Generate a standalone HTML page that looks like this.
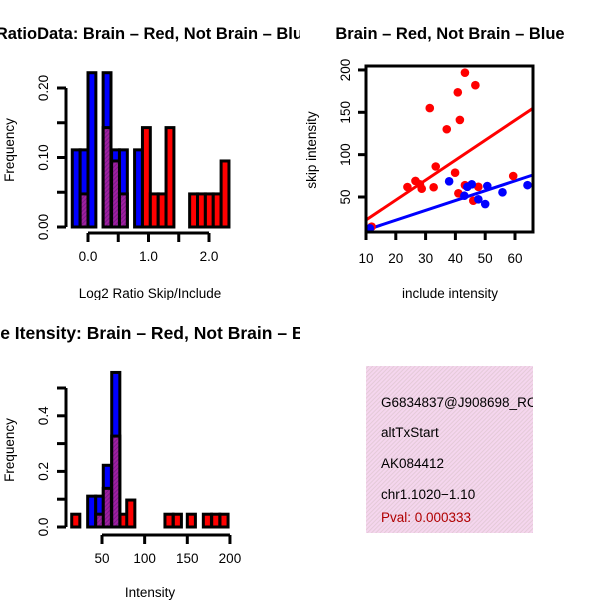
<!DOCTYPE html>
<html><head><meta charset="utf-8"><style>
html,body{margin:0;padding:0;background:#fff}
svg{display:block}
text{font-family:"Liberation Sans",sans-serif;fill:#000}
</style></head><body>
<svg id="c" width="600" height="600" viewBox="0 0 600 600" xmlns="http://www.w3.org/2000/svg">
<defs>
<clipPath id="p1"><rect x="0" y="0" width="300" height="300"/></clipPath>
<clipPath id="p3"><rect x="0" y="300" width="300" height="300"/></clipPath>
<clipPath id="p4"><rect x="366" y="366" width="167" height="167"/></clipPath>
<pattern id="hatch" width="3" height="3" patternUnits="userSpaceOnUse" patternTransform="rotate(45)">
<rect width="3" height="3" fill="#f5d6ee"/><rect width="1" height="3" fill="#e4cad8"/></pattern>
<pattern id="purp" width="3" height="3" patternUnits="userSpaceOnUse" patternTransform="rotate(45)">
<rect width="3" height="3" fill="#a020a0"/><rect width="1" height="3" fill="#7a1a8a"/></pattern>
</defs>
<g id="g1" clip-path="url(#p1)"></g>
<g id="g2"></g>
<g id="g3" clip-path="url(#p3)"></g>
<g id="g4">
<rect x="366" y="366" width="167" height="167" fill="url(#hatch)"/>
<g clip-path="url(#p4)" font-size="13.5">
<text x="381" y="407">G6834837@J908698_RC</text>
<text x="381" y="437">altTxStart</text>
<text x="381" y="468">AK084412</text>
<text x="381" y="499">chr1.1020−1.10</text>
<text x="381" y="522" style="fill:#b00000">Pval: 0.000333</text>
</g></g>
</svg>
<script>
// ---- Panel 1 data (Log2 ratio histogram)
const h1BinWidth = 0.13;
const h1BlueLeft = [-0.26, -0.13, 0, 0.25, 0.39, 0.52, 0.77];
const h1BlueFreq = [0.111, 0.111, 0.222, 0.222, 0.111, 0.111, 0.111];
const h1RedLeft = [-0.13, 0.25, 0.39, 0.52, 0.90, 1.03, 1.16, 1.29, 1.68, 1.81, 1.94, 2.07, 2.20];
const h1RedFreq = [0.0476, 0.143, 0.095, 0.0476, 0.143, 0.0476, 0.0476, 0.143, 0.0476, 0.0476, 0.0476, 0.0476, 0.095];
const h1XTicks = [0, 0.5, 1, 1.5, 2];
const h1XLabels = ["0.0", "", "1.0", "", "2.0"];
const h1YTicks = [0, 0.05, 0.10, 0.15, 0.20];
const h1YLabels = ["0.00", "", "0.10", "", "0.20"];
// ---- Panel 2 data (scatter)
const redInclude = [43.2, 46.7, 40.8, 31.4, 41.5, 37.1, 33.4, 39.9, 23.9, 26.6, 28.1, 28.7, 32.7, 41, 43.2, 47.7, 46, 59.4, 11.9];
const redSkip = [196.8, 182, 173.6, 155, 141, 130, 86, 78.7, 61.8, 69, 65, 59.8, 61.5, 54.4, 64, 62, 45.6, 74.8, 15];
const blueInclude = [37.9, 44, 45.5, 50.7, 55.8, 64.2, 47.7, 50, 43, 11.3];
const blueSkip = [68.5, 62, 65, 63, 55.5, 64, 47.3, 41.7, 51.5, 13];
const redFit = [-0.75, 2.355];
const blueFit = [-0.6, 1.16];
const scXTicks = [10, 20, 30, 40, 50, 60];
const scYTicks = [50, 100, 150, 200];
// ---- Panel 3 data (intensity histogram)
const h3BinWidth = 9.5;
const h3BlueLeft = [33.2, 42.6, 51.5, 61.4];
const h3BlueFreq = [0.111, 0.111, 0.222, 0.556];
const h3RedLeft = [14.5, 42.6, 51.5, 61.4, 71.1, 79, 123.8, 133.6, 150, 168.8, 178.6, 188.3];
const h3RedFreq = [0.046, 0.046, 0.139, 0.327, 0.046, 0.097, 0.046, 0.046, 0.046, 0.046, 0.046, 0.046];
const h3XTicks = [50, 100, 150, 200];
const h3YTicks = [0, 0.1, 0.2, 0.3, 0.4, 0.5];
const h3YLabels = ["0.0", "", "0.2", "", "0.4", ""];

const NS = "http://www.w3.org/2000/svg";
const FS = 13.5;
function mk(parent, tag, attrs, txt) {
  const e = document.createElementNS(NS, tag);
  for (const k in attrs) e.setAttribute(k, attrs[k]);
  if (txt !== undefined) e.textContent = txt;
  parent.appendChild(e);
  return e;
}
function overlaps(left, lefts) { return lefts.some(l => Math.abs(l - left) < 0.01); }

function histogram(g, cfg) {
  const X = v => cfg.x0 + (v - cfg.xv0) * cfg.xs;
  const Y = v => cfg.y0 - v * cfg.ys;
  cfg.blueLeft.forEach((l, i) => {
    const r = mk(g, "rect", {x: X(l), y: Y(cfg.blueFreq[i]), width: cfg.bw * cfg.xs, height: cfg.blueFreq[i] * cfg.ys, fill: "#0000ff", stroke: "#000", "stroke-width": 3});
    
    
  });
  cfg.redLeft.forEach((l, i) => {
    const over = overlaps(l, cfg.blueLeft);
    const r = mk(g, "rect", {x: X(l), y: Y(cfg.redFreq[i]), width: cfg.bw * cfg.xs, height: cfg.redFreq[i] * cfg.ys, fill: over ? "url(#purp)" : "#ff0000", stroke: "#000", "stroke-width": 3});
    
    
  });
  const ya = mk(g, "line", {x1: cfg.yAxisX, x2: cfg.yAxisX, y1: Y(cfg.yTicks[0]), y2: Y(cfg.yTicks[cfg.yTicks.length - 1]), stroke: "#000", "stroke-width": 3});
  
  
  cfg.yTicks.forEach((t, i) => {
    mk(g, "line", {x1: cfg.yAxisX - 9, x2: cfg.yAxisX, y1: Y(t), y2: Y(t), stroke: "#000", "stroke-width": 3});
    if (cfg.yLabels[i]) {
      const tx = mk(g, "text", {x: 0, y: 0, "font-size": FS, "text-anchor": "middle", transform: `translate(${cfg.yAxisX - 18},${Y(t)}) rotate(-90)`}, cfg.yLabels[i]);
      
      
    }
  });
  const xa = mk(g, "line", {x1: X(cfg.xTicks[0]), x2: X(cfg.xTicks[cfg.xTicks.length - 1]), y1: cfg.xAxisY, y2: cfg.xAxisY, stroke: "#000", "stroke-width": 3});
  
  
  cfg.xTicks.forEach((t, i) => {
    mk(g, "line", {x1: X(t), x2: X(t), y1: cfg.xAxisY, y2: cfg.xAxisY + 9, stroke: "#000", "stroke-width": 3});
    if (cfg.xLabels[i]) {
      const tx = mk(g, "text", {x: X(t), y: cfg.xAxisY + 28, "font-size": FS, "text-anchor": "middle"}, cfg.xLabels[i]);
      
      
    }
  });
}

const g1 = document.getElementById("g1");
histogram(g1, {x0: 88, xv0: 0, xs: 60.5, y0: 227, ys: 695, bw: h1BinWidth,
  blueLeft: h1BlueLeft, blueFreq: h1BlueFreq, redLeft: h1RedLeft, redFreq: h1RedFreq,
  yAxisX: 66, yTicks: h1YTicks, yLabels: h1YLabels, xAxisY: 233, xTicks: h1XTicks, xLabels: h1XLabels});
let t;
t = mk(g1, "text", {x: 132, y: 39, "font-size": 16.5, "font-weight": "bold", "text-anchor": "middle"}, "Log2 RatioData: Brain – Red, Not Brain – Blue");


t = mk(g1, "text", {x: 150, y: 298, "font-size": FS, "text-anchor": "middle"}, "Log2 Ratio Skip/Include");


t = mk(g1, "text", {x: 0, y: 0, "font-size": FS, "text-anchor": "middle", transform: "translate(14,150) rotate(-90)"}, "Frequency");



// Panel 2
const g2 = document.getElementById("g2");
const SX = v => 366 + (v - 10) * 2.98;
const SY = v => 197 - (v - 50) * 0.847;
t = mk(g2, "line", {x1: SX(10), x2: SX(66), y1: SY(redFit[0] + redFit[1] * 10), y2: SY(redFit[0] + redFit[1] * 66), stroke: "#ff0000", "stroke-width": 3});


t = mk(g2, "line", {x1: SX(10), x2: SX(66), y1: SY(blueFit[0] + blueFit[1] * 10), y2: SY(blueFit[0] + blueFit[1] * 66), stroke: "#0000ff", "stroke-width": 3});


redInclude.forEach((x, i) => {
  const c = mk(g2, "circle", {cx: SX(x), cy: SY(redSkip[i]), r: 4.3, fill: "#ff0000"});
  
  
});
blueInclude.forEach((x, i) => {
  const c = mk(g2, "circle", {cx: SX(x), cy: SY(blueSkip[i]), r: 4.3, fill: "#0000ff"});
  
  
});
t = mk(g2, "rect", {x: 366, y: 66, width: 167, height: 166, fill: "none", stroke: "#000", "stroke-width": 3});


scXTicks.forEach(v => {
  mk(g2, "line", {x1: SX(v), x2: SX(v), y1: 232, y2: 240, stroke: "#000", "stroke-width": 3});
  const tx = mk(g2, "text", {x: SX(v), y: 263, "font-size": FS, "text-anchor": "middle"}, String(v));
  
  
});
scYTicks.forEach(v => {
  mk(g2, "line", {x1: 358, x2: 366, y1: SY(v), y2: SY(v), stroke: "#000", "stroke-width": 3});
  const tx = mk(g2, "text", {x: 0, y: 0, "font-size": FS, "text-anchor": "middle", transform: `translate(350,${SY(v)}) rotate(-90)`}, String(v));
  
  
});
t = mk(g2, "text", {x: 450, y: 39, "font-size": 16.5, "font-weight": "bold", "text-anchor": "middle"}, "Brain – Red, Not Brain – Blue");


t = mk(g2, "text", {x: 450, y: 298, "font-size": FS, "text-anchor": "middle"}, "include intensity");


t = mk(g2, "text", {x: 0, y: 0, "font-size": FS, "text-anchor": "middle", transform: "translate(316,150) rotate(-90)"}, "skip intensity");



// Panel 3
const g3 = document.getElementById("g3");
histogram(g3, {x0: 102, xv0: 50, xs: 0.853, y0: 527, ys: 278, bw: h3BinWidth,
  blueLeft: h3BlueLeft, blueFreq: h3BlueFreq, redLeft: h3RedLeft, redFreq: h3RedFreq,
  yAxisX: 66, yTicks: h3YTicks, yLabels: h3YLabels, xAxisY: 535, xTicks: h3XTicks, xLabels: h3XTicks.map(String)});
t = mk(g3, "text", {x: 148, y: 339, "font-size": 17.5, "font-weight": "bold", "text-anchor": "middle"}, "Gene Itensity: Brain – Red, Not Brain – Blue");


t = mk(g3, "text", {x: 150, y: 597, "font-size": FS, "text-anchor": "middle"}, "Intensity");


t = mk(g3, "text", {x: 0, y: 0, "font-size": FS, "text-anchor": "middle", transform: "translate(14,450) rotate(-90)"}, "Frequency");


</script>
</body></html>
